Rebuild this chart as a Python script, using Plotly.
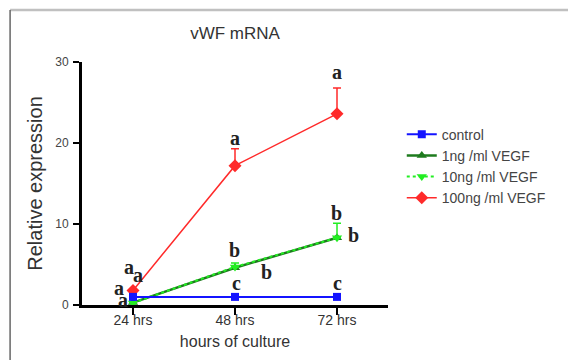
import plotly.graph_objects as go

categories = ["24 hrs", "48 hrs", "72 hrs"]
series_names = ["control", "1ng /ml VEGF", "10ng /ml VEGF", "100ng /ml VEGF"]
control = [1.0, 1.0, 1.0]
ng1 = [0.3, 4.6, 8.3]
ng10 = [0.25, 4.7, 8.3]
ng100 = [1.8, 17.2, 23.6]
err_ng10 = [0.0, 0.5, 1.8]
err_ng100 = [0.0, 2.1, 3.2]

# significance letters: (series key, category index, letter)
letters = [
    ("ng100", 2, "a"), ("ng100", 1, "a"),
    ("ng10", 2, "b"), ("ng10", 2, "b"),
    ("ng10", 1, "b"), ("ng10", 1, "b"),
    ("control", 1, "c"), ("control", 2, "c"),
    ("ng100", 0, "a"), ("ng100", 0, "a"), ("ng100", 0, "a"),
    ("ng10", 0, "a"),
]
letter_offsets = [(0, 42), (0, 28), (-1, 25), (16, 3), (-1, 17), (31, -5),
                  (1, 14), (0, 14), (-4, 23), (5, 15), (-14, 2), (-10, 3)]

values = {"control": control, "ng1": ng1, "ng10": ng10, "ng100": ng100}
colors = {"control": "#1414ff", "ng1": "#1e7b1e", "ng10": "#22ee22", "ng100": "#ff2a2a"}
ranks = {"control": 1, "1ng /ml VEGF": 2, "10ng /ml VEGF": 3, "100ng /ml VEGF": 4}

fig = go.Figure()
fig.add_trace(go.Scatter(
    x=categories, y=ng1, name=series_names[1], mode="lines+markers",
    line=dict(color=colors["ng1"], width=2.5),
    marker=dict(symbol="triangle-up", size=9, color=colors["ng1"]),
    legendgroup="g2", cliponaxis=False))
fig.add_trace(go.Scatter(
    x=categories, y=ng10, name=series_names[2], mode="lines+markers",
    line=dict(color=colors["ng10"], width=2, dash="dot"),
    marker=dict(symbol="triangle-down", size=9, color=colors["ng10"]),
    error_y=dict(type="data", symmetric=False, array=err_ng10, arrayminus=[0, 0, 0],
                 color=colors["ng10"], thickness=1.5, width=4),
    legendgroup="g3", cliponaxis=False))
fig.add_trace(go.Scatter(
    x=categories, y=ng100, name=series_names[3], mode="lines+markers",
    line=dict(color=colors["ng100"], width=1.5),
    marker=dict(symbol="diamond", size=10, color=colors["ng100"]),
    error_y=dict(type="data", symmetric=False, array=err_ng100, arrayminus=[0, 0, 0],
                 color=colors["ng100"], thickness=1.5, width=4),
    legendgroup="g4", cliponaxis=False))
fig.add_trace(go.Scatter(
    x=categories, y=control, name=series_names[0], mode="lines+markers",
    line=dict(color=colors["control"], width=2),
    marker=dict(symbol="square", size=8, color=colors["control"]),
    legendgroup="g1", cliponaxis=False))
for tr in fig.data:
    tr.legendrank = ranks[tr.name]

for (key, idx, txt), (dx, dy) in zip(letters, letter_offsets):
    fig.add_annotation(x=idx, y=values[key][idx], xref="x", yref="y", text="<b>" + txt + "</b>",
                       showarrow=False, xshift=dx, yshift=dy,
                       font=dict(family="Liberation Serif", size=20, color="#222222"))

# outer frame
fig.add_shape(type="line", xref="paper", yref="paper", x0=-0.235, x1=1.6, y0=1.214, y1=1.214,
              line=dict(color="#c0c0c0", width=2.5))
fig.add_shape(type="line", xref="paper", yref="paper", x0=-0.235, x1=-0.235, y0=1.214, y1=-0.25,
              line=dict(color="#666666", width=1.5))

fig.update_layout(
    width=568, height=360,
    margin=dict(l=82, r=180, t=62, b=55),
    paper_bgcolor="white", plot_bgcolor="white",
    font=dict(family="Liberation Sans", color="#333333"),
    title=dict(text="vWF mRNA", x=0.5, xref="paper", y=1 - 33 / 360, yanchor="middle",
               font=dict(family="Liberation Sans", size=17, color="#333333")),
    showlegend=True,
    legend=dict(x=1.045, y=0.767, xanchor="left", yanchor="top", traceorder="grouped",
                tracegroupgap=0, font=dict(size=14, color="#444444"), bgcolor="rgba(0,0,0,0)"),
    xaxis=dict(type="category", range=[-0.5, 2.5], showline=True, linecolor="black", linewidth=3,
               ticks="outside", ticklen=7, tickwidth=2, tickcolor="black", showgrid=False,
               zeroline=False, tickfont=dict(size=14, color="#333333"), ticklabelstandoff=-7,
               automargin=False,
               title=dict(text="hours of culture", font=dict(size=16, color="#333333"), standoff=10)),
    yaxis=dict(range=[0, 30], tickvals=[0, 10, 20, 30], showline=True, linecolor="black", linewidth=3,
               ticks="outside", ticklen=6, tickwidth=2, tickcolor="black", showgrid=False,
               zeroline=False, tickfont=dict(size=12, color="#444444"), ticklabelstandoff=2,
               automargin=False,
               title=dict(text="Relative expression", font=dict(size=20, color="#333333"), standoff=8)),
)

fig.write_html("out.html", config={"displayModeBar": False},
               post_script="document.body.style.margin='0';")
